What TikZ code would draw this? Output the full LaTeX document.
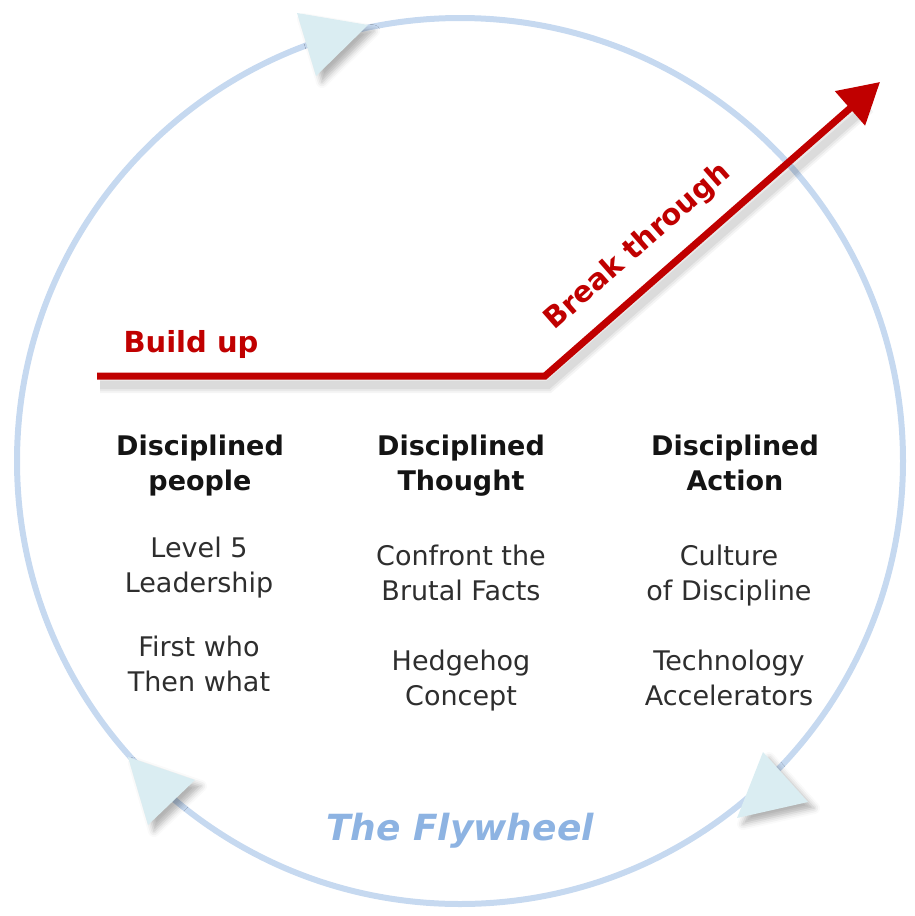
\documentclass[tikz,border=0pt]{standalone}
\usepackage{fontspec}
\setmainfont{DejaVu Sans}
\usepackage{tikz}
\usetikzlibrary{arrows.meta,shadows.blur}

\definecolor{wheelblue}{HTML}{C6D9F0}
\definecolor{tipcyan}{HTML}{DAEDF2}
\definecolor{buildred}{HTML}{C00000}
\definecolor{flyblue}{HTML}{8DB3E2}
\definecolor{bodygray}{HTML}{2E2E2E}

\begin{document}
\begin{tikzpicture}
  [x=1pt,y=-1pt,
   every node/.style={align=center,inner sep=0pt},
   head/.style={anchor=north,font=\fontsize{27}{35}\selectfont\bfseries,text=black!92},
   body/.style={anchor=north,font=\fontsize{27}{35}\selectfont,text=bodygray},
   redtext/.style={anchor=base,font=\fontsize{29}{35}\selectfont\bfseries,text=buildred},
   wheeltip/.style={fill=tipcyan,blur shadow={shadow xshift=6pt,shadow yshift=-6pt,
     shadow blur radius=6pt,shadow opacity=30}}]

  \useasboundingbox (0,0) rectangle (914,916);

  % the wheel and its three tips
  \coordinate (hub) at (460,461);
  \draw[wheelblue,line width=6pt] (hub) circle [radius=443];

  \fill[wheeltip] (297,13) -- (368,25) -- (316,76) -- cycle;
  \fill[wheeltip] (763,752) -- (808,802) -- (737,818) -- cycle;
  \fill[wheeltip] (128,757) -- (195,780) -- (148,825) -- cycle;

  % build up, then break through
  \coordinate (start) at (97,376);
  \coordinate (bend) at (545,376);
  \coordinate (tip) at (880,82);

  \foreach \w/\o in {16/.04,12/.05,8/.06}
    \draw[black,opacity=\o,line width=\w pt]
      ([shift={(3,9)}]start) -- ([shift={(3,9)}]bend) -- ([shift={(-12,24)}]tip);

  \draw[buildred,line width=7pt,-{Triangle[length=40pt,width=44pt]}]
    (start) -- (bend) -- (tip);

  \node[redtext] (buildup) at (191,352) {Build up};
  \node[redtext,rotate=41.3] (breakthrough) at (643,253) {Break through};

  % the three columns
  \node[head] (people) at (200,435) {Disciplined\\people};
  \node[head] (thought) at (461,435) {Disciplined\\Thought};
  \node[head] (action) at (735,435) {Disciplined\\Action};

  \node[body] (levelfive) at (199,537) {Level 5\\Leadership};
  \node[body] (firstwho) at (199,636) {First who\\Then what};
  \node[body] (brutal) at (461,545) {Confront the\\Brutal Facts};
  \node[body] (hedgehog) at (461,650) {Hedgehog\\Concept};
  \node[body] (culture) at (729,545) {Culture\\of Discipline};
  \node[body] (techacc) at (729,650) {Technology\\Accelerators};

  \node[anchor=base,font=\fontsize{36}{40}\selectfont\bfseries\itshape,text=flyblue]
    (flywheel) at (460,840) {The Flywheel};
\end{tikzpicture}
\end{document}
